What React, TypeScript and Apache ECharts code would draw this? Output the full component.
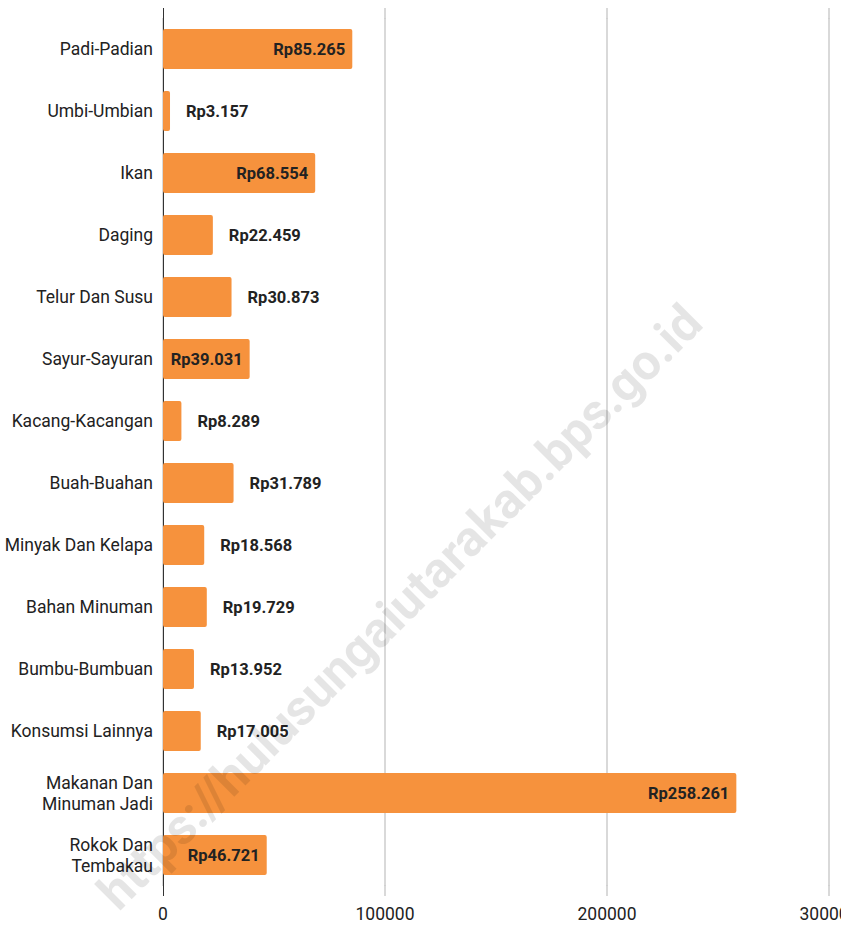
import React, { useEffect, useRef } from "react";
import * as echarts from "echarts";

const categories: string[] = [
  "Padi-Padian",
  "Umbi-Umbian",
  "Ikan",
  "Daging",
  "Telur Dan Susu",
  "Sayur-Sayuran",
  "Kacang-Kacangan",
  "Buah-Buahan",
  "Minyak Dan Kelapa",
  "Bahan Minuman",
  "Bumbu-Bumbuan",
  "Konsumsi Lainnya",
  "Makanan Dan\nMinuman Jadi",
  "Rokok Dan\nTembakau",
];

const values: number[] = [
  85265, 3157, 68554, 22459, 30873, 39031, 8289, 31789, 18568, 19729, 13952,
  17005, 258261, 46721,
];

const xTicks: number[] = [0, 100000, 200000, 300000];

const watermark = "https://hulusungaiutarakab.bps.go.id";

const fmt = (v: number) =>
  "Rp" + String(v).replace(/\B(?=(\d{3})+(?!\d))/g, ".");

export default function App() {
  const ref = useRef<HTMLDivElement>(null);
  useEffect(() => {
    if (!ref.current) return;
    const chart = echarts.init(ref.current, null, { renderer: "svg" });
    const font = "Roboto, 'Noto Sans', sans-serif";
    chart.setOption({
      animation: false,
      backgroundColor: "#ffffff",
      grid: {
        left: 163,
        right: 12,
        top: 18,
        bottom: 39,
        containLabel: false,
        outerBoundsMode: "none",
      },
      xAxis: {
        type: "value",
        min: xTicks[0],
        max: xTicks[xTicks.length - 1],
        interval: xTicks[1] - xTicks[0],
        axisLine: { show: false },
        axisTick: { show: false },
        splitLine: { show: true, lineStyle: { color: "#cccccc", width: 1.5 } },
        axisLabel: {
          color: "#222222",
          fontSize: 17.5,
          fontFamily: font,
          margin: 19,
          showMinLabel: true,
          showMaxLabel: true,
          hideOverlap: false,
          formatter: (v: number) => String(v),
        },
      },
      yAxis: {
        type: "category",
        inverse: true,
        data: categories,
        axisLine: { show: true, lineStyle: { color: "#333333", width: 1 } },
        axisTick: { show: false },
        splitLine: { show: false },
        axisLabel: {
          color: "#222222",
          fontSize: 17.5,
          fontFamily: font,
          margin: 10,
          lineHeight: 21,
          align: "right",
        },
      },
      series: [
        {
          type: "bar",
          barWidth: 40,
          itemStyle: { color: "#F6923D", borderRadius: 2 },
          data: values.map((v) => {
            const inside = v >= 36000;
            return {
              value: v,
              label: {
                show: true,
                position: inside ? "insideRight" : "right",
                distance: inside ? 7 : 16,
                formatter: () => fmt(v),
                color: "#222222",
                fontSize: 16.5,
                fontWeight: "bold",
                fontFamily: font,
              },
            };
          }),
        },
      ],
    });
    // extend vertical lines slightly beyond the plot area as in the reference
    const top = 8;
    const bottom = 896;
    const graphics: any[] = [];
    xTicks.forEach((t, i) => {
      const p = chart.convertToPixel({ gridIndex: 0 }, [t, 0]) as number[];
      const x = Math.round(p[0]) + (i === 0 ? 0.5 : 0);
      const color = i === 0 ? "#333333" : "#cccccc";
      const w = i === 0 ? 1 : 1.5;
      graphics.push({
        type: "line",
        z: 0,
        shape: { x1: x, y1: top, x2: x, y2: 19 },
        style: { stroke: color, lineWidth: w },
        silent: true,
      });
      graphics.push({
        type: "line",
        z: 0,
        shape: { x1: x, y1: 885, x2: x, y2: bottom },
        style: { stroke: color, lineWidth: w },
        silent: true,
      });
    });
    graphics.push({
      type: "text",
      x: 400,
      y: 607,
      rotation: (45 * Math.PI) / 180,
      z: 100,
      silent: true,
      style: {
        text: watermark,
        fill: "rgba(0,0,0,0.1)",
        fontSize: 50,
        fontWeight: "bold",
        fontFamily: font,
        align: "center",
        verticalAlign: "middle",
      },
    });
    chart.setOption({ graphic: graphics });
    return () => chart.dispose();
  }, []);
  return (
    <div
      ref={ref}
      style={{ position: "absolute", left: 0, top: 0, width: 841, height: 925 }}
    />
  );
}
